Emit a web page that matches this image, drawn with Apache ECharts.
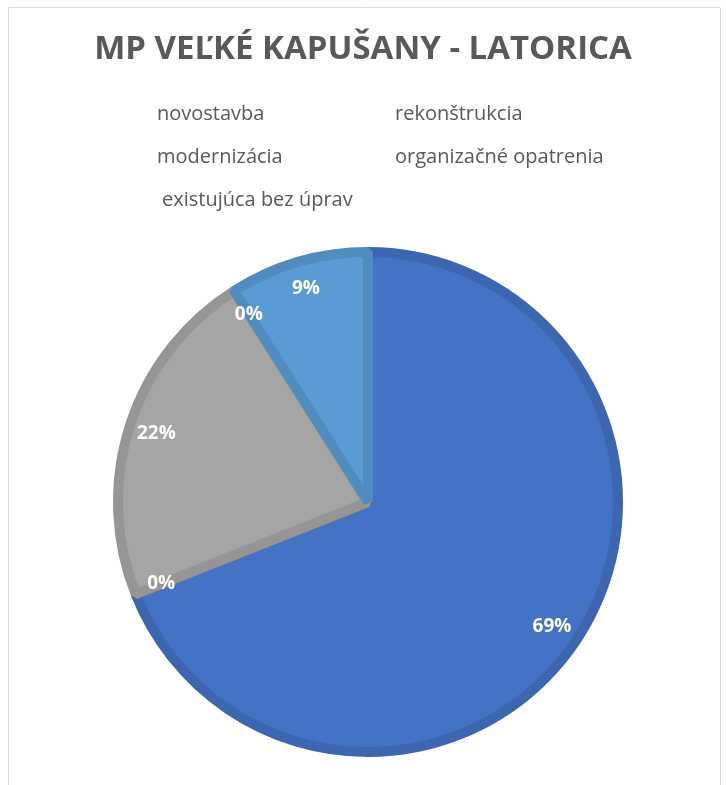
<!DOCTYPE html>
<html>
<head>
<meta charset="utf-8">
<script src="https://cdn.jsdelivr.net/npm/echarts@6/dist/echarts.min.js"></script>
<style>
  html, body { margin: 0; padding: 0; background: #fff; }
  #chart { width: 726px; height: 785px; }
</style>
</head>
<body>
<div id="chart"></div>
<script>
// Share of measures at MP Veľké Kapušany - Latorica
const categories = ['novostavba', 'rekonštrukcia', 'modernizácia', 'organizačné opatrenia', 'existujúca bez úprav'];
const values = [69, 0, 22, 0, 9];
const fillColors = ['#4472C4', '#ED7D31', '#A5A5A5', '#FFC000', '#5B9BD5'];
const edgeColors = ['#3D66B1', '#D56F2C', '#959595', '#E6AD00', '#518CC0'];
const titleText = 'MP VEĽKÉ KAPUŠANY - LATORICA';

const chart = echarts.init(document.getElementById('chart'), null, { renderer: 'canvas' });

const pieData = categories.map((name, i) => ({
  name: name,
  value: values[i],
  itemStyle: { color: fillColors[i], borderColor: edgeColors[i] }
}));

const legendText = { fontFamily: 'Open Sans', fontSize: 20, color: '#595959' };

const center = [368, 502];

chart.setOption({
  animation: false,
  title: {
    text: titleText,
    left: 'center',
    top: 28,
    textStyle: { fontFamily: 'Open Sans', fontWeight: 'bold', fontSize: 33, color: '#595959' }
  },
  legend: [
    {
      data: [categories[0], categories[2]],
      orient: 'vertical', left: 146, top: 99, itemGap: 23,
      itemWidth: 0, itemHeight: 0, textStyle: legendText, selectedMode: false
    },
    {
      data: [categories[1], categories[3]],
      orient: 'vertical', left: 384, top: 99, itemGap: 23,
      itemWidth: 0, itemHeight: 0, textStyle: legendText, selectedMode: false
    },
    {
      data: [categories[4]],
      orient: 'vertical', left: 151, top: 185,
      itemWidth: 0, itemHeight: 0, textStyle: legendText, selectedMode: false
    }
  ],
  graphic: [{
    type: 'rect',
    shape: { x: 8.5, y: 7.5, width: 712, height: 800 },
    style: { fill: 'none', stroke: '#D9D9D9', lineWidth: 1 },
    z: -1
  }],
  series: [
    {
      name: 'slices',
      type: 'pie',
      center: center,
      radius: [0, 250],
      startAngle: 90,
      clockwise: true,
      percentPrecision: 0,
      silent: true,
      itemStyle: { borderWidth: 10, borderJoin: 'bevel' },
      label: { show: false },
      labelLine: { show: false },
      data: pieData
    },
    {
      // transparent ring that carries the percentage labels near the rim
      name: 'labels',
      type: 'pie',
      center: center,
      radius: [186, 253],
      startAngle: 90,
      clockwise: true,
      percentPrecision: 0,
      silent: true,
      avoidLabelOverlap: false,
      itemStyle: { color: 'rgba(0,0,0,0)', borderWidth: 0 },
      label: {
        show: true,
        position: 'inside',
        formatter: '{d}%',
        fontFamily: 'Open Sans',
        fontWeight: 'bold',
        fontSize: 19,
        color: '#FFFFFF'
      },
      labelLine: { show: false },
      data: categories.map((name, i) => ({ name: name, value: values[i] }))
    }
  ]
});
</script>
</body>
</html>
